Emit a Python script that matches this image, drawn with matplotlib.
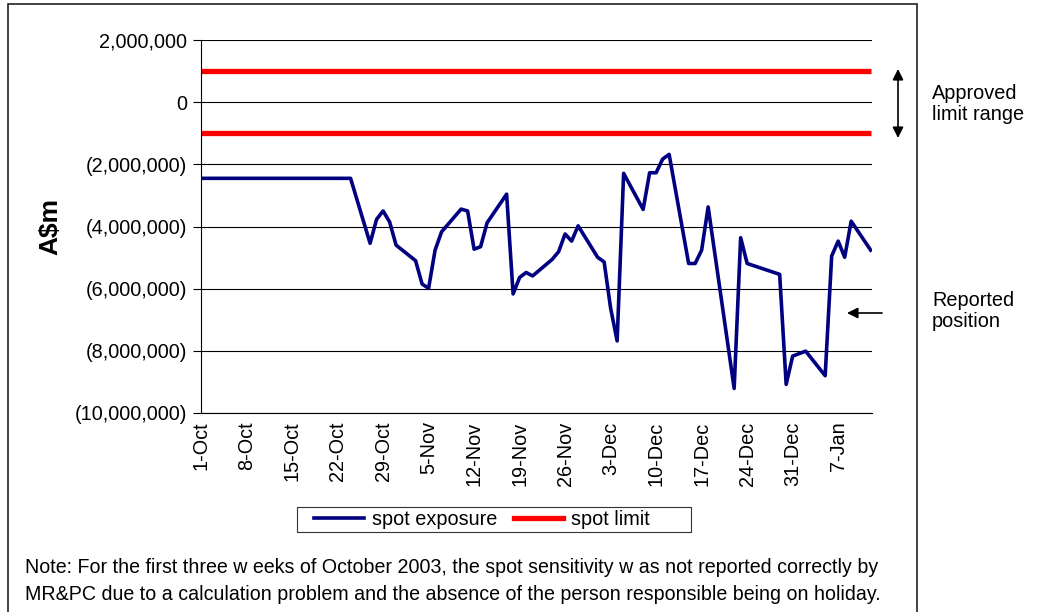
import datetime as dt

import matplotlib
matplotlib.use("Agg")
import matplotlib.pyplot as plt
from matplotlib.lines import Line2D
from matplotlib.patches import Rectangle
from matplotlib.ticker import FuncFormatter

plt.rcParams["font.family"] = ["Liberation Sans", "DejaVu Sans"]

# spot exposure (A$ millions)
dates = [
    "2003-10-01", "2003-10-24", "2003-10-27", "2003-10-28", "2003-10-29",
    "2003-10-30", "2003-10-31", "2003-11-03", "2003-11-04", "2003-11-05",
    "2003-11-06", "2003-11-07", "2003-11-10", "2003-11-11", "2003-11-12",
    "2003-11-13", "2003-11-14", "2003-11-17", "2003-11-18", "2003-11-19",
    "2003-11-20", "2003-11-21", "2003-11-24", "2003-11-25", "2003-11-26",
    "2003-11-27", "2003-11-28", "2003-12-01", "2003-12-02", "2003-12-03",
    "2003-12-04", "2003-12-05", "2003-12-08", "2003-12-09", "2003-12-10",
    "2003-12-11", "2003-12-12", "2003-12-15", "2003-12-16", "2003-12-17",
    "2003-12-18", "2003-12-22", "2003-12-23", "2003-12-24", "2003-12-29",
    "2003-12-30", "2003-12-31", "2004-01-02", "2004-01-05", "2004-01-06",
    "2004-01-07", "2004-01-08", "2004-01-09", "2004-01-12",
]
exposure_m = [
    -2.45, -2.45, -4.54, -3.77, -3.50,
    -3.85, -4.60, -5.10, -5.85, -5.99,
    -4.76, -4.17, -3.44, -3.50, -4.73,
    -4.65, -3.88, -2.96, -6.17, -5.64,
    -5.48, -5.59, -5.06, -4.81, -4.24,
    -4.47, -3.98, -4.99, -5.14, -6.63,
    -7.68, -2.29, -3.45, -2.27, -2.27,
    -1.83, -1.68, -5.19, -5.19, -4.76,
    -3.37, -9.21, -4.36, -5.19, -5.54,
    -9.08, -8.17, -8.01, -8.80, -4.95,
    -4.47, -4.99, -3.83, -4.76,
]
limit_upper = 1_000_000
limit_lower = -1_000_000

y_ticks = [2_000_000, 0, -2_000_000, -4_000_000, -6_000_000, -8_000_000, -10_000_000]
x_start = "2003-10-01"
x_end = "2004-01-12"
x_tick_last = "2004-01-07"

NAVY = "#000080"
RED = "#FF0000"
FS = 14.3

x = [dt.datetime.strptime(d, "%Y-%m-%d") for d in dates]
y = [v * 1_000_000 for v in exposure_m]
x0 = dt.datetime.strptime(x_start, "%Y-%m-%d")
x1 = dt.datetime.strptime(x_end, "%Y-%m-%d")
t_last = dt.datetime.strptime(x_tick_last, "%Y-%m-%d")


def money_fmt(v, _pos=None):
    if abs(v) < 1:
        return "0"
    if v < 0:
        return f"({abs(v):,.0f})"
    return f"{v:,.0f}"


fig = plt.figure(figsize=(10.39, 6.12), dpi=100)
ax = fig.add_axes([0.1935, 0.3252, 0.6458, 0.6094])

ax.set_ylim(-10_000_000, 2_000_000)
ax.set_xlim(x0, x1 + dt.timedelta(hours=5))
ax.set_yticks(y_ticks)
ax.yaxis.set_major_formatter(FuncFormatter(money_fmt))

ticks = []
t = x0
while t <= t_last:
    ticks.append(t)
    t += dt.timedelta(days=7)
ax.set_xticks(ticks)
ax.set_xticklabels([f"{d.day}-{d.strftime('%b')}" for d in ticks], rotation=90)

ax.grid(axis="y", color="black", linewidth=0.8)
ax.set_axisbelow(True)
for side in ["top", "right"]:
    ax.spines[side].set_visible(False)
ax.spines["left"].set_linewidth(0.8)
ax.spines["bottom"].set_linewidth(0.8)
ax.tick_params(axis="y", direction="out", length=6, width=0.8, labelsize=FS, pad=4)
ax.tick_params(axis="x", length=0, labelsize=FS, pad=6)

ax.plot([x0, x1], [limit_upper, limit_upper], color=RED, linewidth=3.8, solid_capstyle="butt")
ax.plot([x0, x1], [limit_lower, limit_lower], color=RED, linewidth=3.8, solid_capstyle="butt")
ax.plot(x, y, color=NAVY, linewidth=2.6)

ax.set_ylabel("A$m", fontsize=19, fontweight="bold", labelpad=9)

# legend, box drawn separately like the Excel one
handles = [
    Line2D([], [], color=NAVY, linewidth=2.6),
    Line2D([], [], color=RED, linewidth=3.8),
]
fig.legend(handles, ["spot exposure", "spot limit"], loc="center left",
           bbox_to_anchor=(300 / 1039, 0.151), ncol=2, frameon=False, fontsize=FS,
           borderpad=0.2, handlelength=2.5, handletextpad=0.4, columnspacing=0.85)
fig.add_artist(Rectangle((297 / 1039, 1 - 532 / 612), 394 / 1039, 25 / 612,
                         transform=fig.transFigure, fill=False,
                         edgecolor="#333333", linewidth=0.8))

# outer frame
fig.add_artist(Rectangle((8 / 1039, -0.1), 909 / 1039, 1.1 - 4 / 612,
                         transform=fig.transFigure, fill=False,
                         edgecolor="#222222", linewidth=1.2, clip_on=False))

# right-hand notes
fig.add_artist(plt.Annotation("", xy=(898 / 1039, 1 - 69 / 612),
                              xytext=(898 / 1039, 1 - 138 / 612),
                              xycoords="figure fraction",
                              arrowprops=dict(arrowstyle="<|-|>", color="black",
                                              linewidth=1.2, mutation_scale=16,
                                              shrinkA=0, shrinkB=0)))
fig.text(932 / 1039, 1 - 84 / 612, "Approved\nlimit range", fontsize=FS,
         va="top", ha="left", linespacing=1.15)

fig.add_artist(plt.Annotation("", xy=(847 / 1039, 1 - 313 / 612),
                              xytext=(882 / 1039, 1 - 313 / 612),
                              xycoords="figure fraction",
                              arrowprops=dict(arrowstyle="-|>", color="black",
                                              linewidth=1.2, mutation_scale=16,
                                              shrinkA=0, shrinkB=0)))
fig.text(932 / 1039, 1 - 291 / 612, "Reported\nposition", fontsize=FS,
         va="top", ha="left", linespacing=1.15)

note = ("Note: For the first three w eeks of October 2003, the spot sensitivity w as not reported correctly by\n"
        "MR&PC due to a calculation problem and the absence of the person responsible being on holiday.")
fig.text(25 / 1039, 1 - 558 / 612, note, fontsize=14.1, va="top", ha="left", linespacing=1.5)

fig.savefig("out.png", dpi=100)
